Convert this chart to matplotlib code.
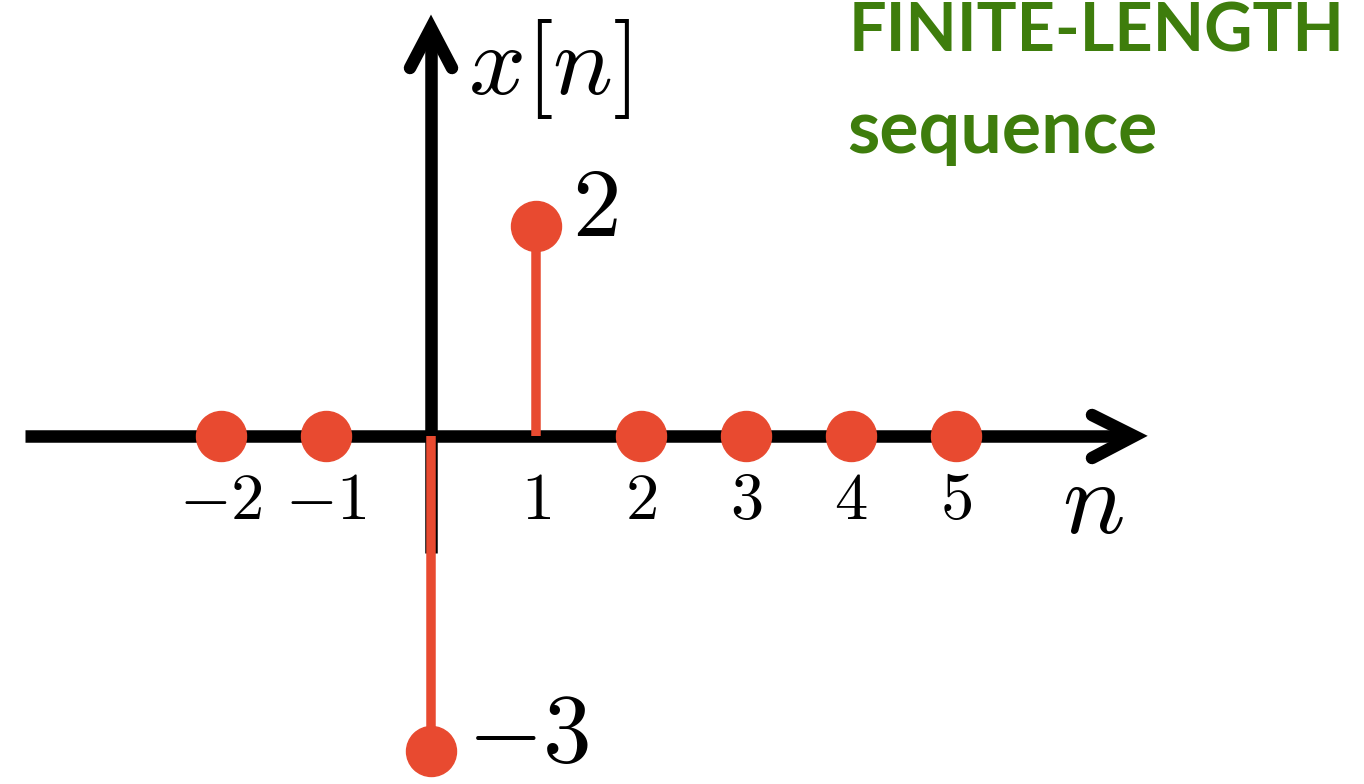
import matplotlib
matplotlib.use("Agg")
import matplotlib.pyplot as plt

# ---- data ----
n_values = [-2, -1, 0, 1, 2, 3, 4, 5]
x_values = [0, 0, -3, 2, 0, 0, 0, 0]
tick_values = [-2, -1, 1, 2, 3, 4, 5]
title_lines = ["FINITE-LENGTH", "sequence"]

RED = "#e84a30"
GREEN = "#3e7d0c"

plt.rcParams["mathtext.fontset"] = "cm"

W, H, DPI = 1364, 784, 100
fig = plt.figure(figsize=(W / DPI, H / DPI), dpi=DPI)
ax = fig.add_axes([0, 0, 1, 1])
ax.set_axis_off()

# layout helpers (pixel -> data) for decoration only
OX, OY, SX, SY = 431, 436, 105, 105
def px(p):
    return (p - OX) / SX
def py(p):
    return (OY - p) / SY

ax.set_xlim(px(0), px(W))
ax.set_ylim(py(H), py(0))

PT = 0.72  # points per pixel
axis_lw = 12.5 * PT

# horizontal axis with chevron
ax.plot([px(25), px(1128)], [0, 0], color="black", lw=axis_lw,
        solid_capstyle="butt", zorder=1)
ax.plot([px(1092), px(1134), px(1092)], [py(415), 0, py(458)], color="black",
        lw=axis_lw, solid_capstyle="round", solid_joinstyle="miter", zorder=1)
# vertical axis with chevron
ax.plot([0, 0], [py(553), py(34)], color="black", lw=axis_lw,
        solid_capstyle="butt", zorder=1)
ax.plot([px(410), 0, px(452)], [py(68), py(28), py(68)], color="black",
        lw=axis_lw, solid_capstyle="round", solid_joinstyle="miter", zorder=1)

# stems
markerline, stemlines, baseline = ax.stem(n_values, x_values, basefmt=" ")
markerline.set_color(RED)
markerline.set_markersize(50 * PT)
markerline.set_zorder(4)
stemlines.set_color(RED)
stemlines.set_linewidth(9.5 * PT)
stemlines.set_zorder(3)
stemlines.set_capstyle("butt")

# tick labels
for t in tick_values:
    ax.text(t, py(500), f"${t}$", ha="center", va="center", fontsize=48,
            color="black")

# value labels
for n, v in zip(n_values, x_values):
    if v != 0:
        ax.annotate(f"${v}$", (n, v), xytext=(36 * PT, 16 * PT),
                    textcoords="offset points", ha="left", va="center",
                    fontsize=70, color="black")

# axis labels
ax.text(px(468), py(69), r"$x[n]$", ha="left", va="center", fontsize=72)
ax.text(px(1093), py(504), r"$n$", ha="center", va="center", fontsize=75)

# title text
fig.text(849 / W, 1 - 52 / H, title_lines[0], ha="left", va="baseline",
         fontsize=48, fontweight="bold", family="Lato", color=GREEN)
fig.text(847 / W, 1 - 153 / H, title_lines[1], ha="left", va="baseline",
         fontsize=53, fontweight="bold", family="Lato", color=GREEN)

fig.savefig("out.png", dpi=DPI)
